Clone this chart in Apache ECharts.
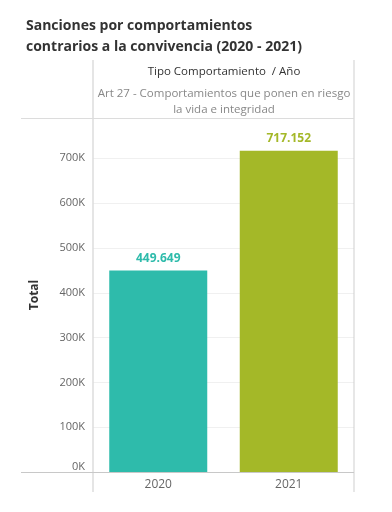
<!DOCTYPE html>
<html>
<head>
<meta charset="utf-8">
<script src="https://cdn.jsdelivr.net/npm/echarts@6/dist/echarts.min.js"></script>
<style>
html,body{margin:0;padding:0;background:#fff;}
#chart{width:392px;height:512px;}
</style>
</head>
<body>
<div id="chart"></div>
<script>
const categories = ['2020', '2021'];
const values = [449649, 717152];
const barColors = ['#2EBBAB', '#A4B828'];
const yTicks = [0, 100000, 200000, 300000, 400000, 500000, 600000, 700000];

const FONT = '"Open Sans", "Noto Sans", sans-serif';
const chart = echarts.init(document.getElementById('chart'));

function fmtDots(v) {
  return String(v).replace(/\B(?=(\d{3})+(?!\d))/g, '.');
}

chart.setOption({
  animation: false,
  title: {
    text: 'Sanciones por comportamientos\ncontrarios a la convivencia (2020 - 2021)',
    left: 21, top: 11,
    textStyle: { fontFamily: '"Open Sans", sans-serif', fontSize: 14, fontWeight: 'bold', color: '#333', lineHeight: 21 }
  },
  grid: { left: 93, right: 38, top: 118, bottom: 40, containLabel: false },
  xAxis: {
    type: 'category',
    data: categories,
    axisLine: { show: false },
    axisTick: { show: false },
    axisLabel: { color: '#666', fontFamily: FONT, fontSize: 12, margin: 7 }
  },
  yAxis: {
    type: 'value',
    min: 0, max: 790000, interval: 100000,
    name: 'Total',
    nameLocation: 'middle',
    nameGap: 52,
    nameTextStyle: { fontFamily: FONT, fontSize: 12, fontWeight: 'bold', color: '#333' },
    axisLine: { show: false },
    axisTick: { show: false },
    splitLine: { lineStyle: { color: '#f0f0f0', width: 1 } },
    axisLabel: {
      color: '#666', fontFamily: FONT, fontSize: 11, margin: 8,
      showMaxLabel: false,
      verticalAlignMinLabel: 'bottom',
      formatter: function (v) { return yTicks.indexOf(v) >= 0 ? (v / 1000) + 'K' : ''; }
    }
  },
  series: [{
    type: 'bar',
    barWidth: 98,
    data: values.map(function (v, i) {
      return { value: v, itemStyle: { color: barColors[i] },
        label: { color: barColors[i] } };
    }),
    label: {
      show: true, position: 'top', distance: 6,
      fontFamily: FONT, fontSize: 12, fontWeight: 'bold',
      formatter: function (p) { return fmtDots(p.value); }
    }
  }],
  graphic: [
    { type: 'line', shape: { x1: 93, y1: 60, x2: 93, y2: 492 }, style: { stroke: '#dcdcdc', lineWidth: 1.5 }, z: 10 },
    { type: 'line', shape: { x1: 354, y1: 60, x2: 354, y2: 492 }, style: { stroke: '#cfcfcf', lineWidth: 1 }, z: 10 },
    { type: 'line', shape: { x1: 21, y1: 118.5, x2: 354, y2: 118.5 }, style: { stroke: '#dcdcdc', lineWidth: 1 }, z: 10 },
    { type: 'line', shape: { x1: 21, y1: 472.5, x2: 354, y2: 472.5 }, style: { stroke: '#c8c8c8', lineWidth: 1 }, z: 10 },
    { type: 'text', x: 224, y: 72, style: { text: 'Tipo Comportamiento  / Año', fontFamily: FONT, fontSize: 11.5, fill: '#333', align: 'center', verticalAlign: 'middle' } },
    { type: 'text', x: 224, y: 102, style: { text: 'Art 27 - Comportamientos que ponen en riesgo\nla vida e integridad', fontFamily: FONT, fontSize: 11.5, fill: '#888', align: 'center', verticalAlign: 'middle', lineHeight: 16 } }
  ]
});
</script>
</body>
</html>
